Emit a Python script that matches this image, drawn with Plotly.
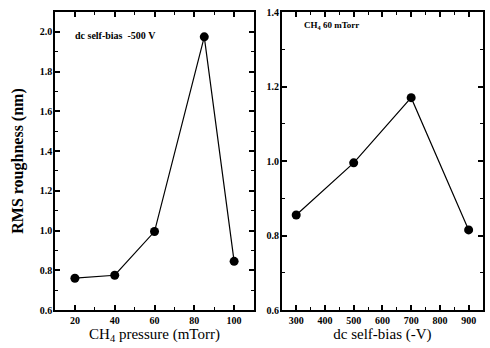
import plotly.graph_objects as go
from plotly.subplots import make_subplots

pressure = [20, 40, 60, 85, 100]
rms_pressure = [0.76, 0.775, 0.995, 1.975, 0.845]
bias = [300, 500, 700, 900]
rms_bias = [0.855, 0.995, 1.17, 0.815]

SERIF = "Liberation Serif, Times New Roman, serif"

fig = make_subplots(rows=1, cols=2)
fig.add_trace(go.Scatter(x=pressure, y=rms_pressure, mode="lines+markers",
                         line=dict(color="black", width=1.2),
                         marker=dict(color="black", size=9)), row=1, col=1)
fig.add_trace(go.Scatter(x=bias, y=rms_bias, mode="lines+markers",
                         line=dict(color="black", width=1.2),
                         marker=dict(color="black", size=9)), row=1, col=2)

axcommon = dict(showline=True, linecolor="black", linewidth=1.5, mirror="ticks",
                ticks="inside", ticklen=5, tickwidth=1.5, tickcolor="black",
                showgrid=False, zeroline=False, automargin=False, tickmode="linear",
                tickfont=dict(family=SERIF, size=10, color="black", weight="bold"))
minor = dict(ticks="inside", ticklen=3, tickwidth=1, tickcolor="black", showgrid=False)

fig.update_xaxes(**axcommon)
fig.update_yaxes(**axcommon)

fig.update_xaxes(range=[10, 110], dtick=20, tick0=0, domain=[0, 0.465],
                 minor=dict(dtick=10, tick0=0, **minor),
                 title=dict(text="CH<sub>4</sub> pressure (mTorr)", standoff=2,
                            font=dict(family=SERIF, size=15, color="black")),
                 row=1, col=1)
fig.update_xaxes(range=[250, 950], dtick=100, tick0=0, domain=[0.53, 1],
                 minor=dict(dtick=50, tick0=0, **minor),
                 title=dict(text="dc self-bias (-V)", standoff=2,
                            font=dict(family=SERIF, size=15, color="black")),
                 row=1, col=2)
fig.update_yaxes(range=[0.6, 2.1], dtick=0.2, tick0=0.6, tickformat=".1f",
                 ticklabelstandoff=-1,
                 minor=dict(dtick=0.1, tick0=0.6, **minor),
                 title=dict(text="RMS roughness (nm)", standoff=12,
                            font=dict(family=SERIF, size=16, color="black", weight="bold")),
                 row=1, col=1)
fig.update_yaxes(range=[0.6, 1.4], dtick=0.2, tick0=0.6, tickformat=".1f",
                 ticklabelstandoff=-1,
                 minor=dict(dtick=0.1, tick0=0.6, **minor),
                 row=1, col=2)

fig.add_annotation(text="dc self-bias  -500 V", xref="x domain", yref="y domain",
                   x=0.09, y=0.922, xanchor="left", yanchor="middle", showarrow=False,
                   font=dict(family=SERIF, size=10, color="black", weight="bold"))
fig.add_annotation(text="CH<sub>4</sub> 60 mTorr", xref="x2 domain", yref="y2 domain",
                   x=0.1, y=0.955, xanchor="left", yanchor="middle", showarrow=False,
                   font=dict(family=SERIF, size=9, color="black", weight="bold"))

fig.update_layout(width=490, height=348, showlegend=False,
                  margin=dict(l=55, r=7, t=12, b=38, autoexpand=False),
                  paper_bgcolor="white", plot_bgcolor="white")
fig.write_html("out.html", config={"displayModeBar": False},
               post_script="document.body.style.margin='0';")
